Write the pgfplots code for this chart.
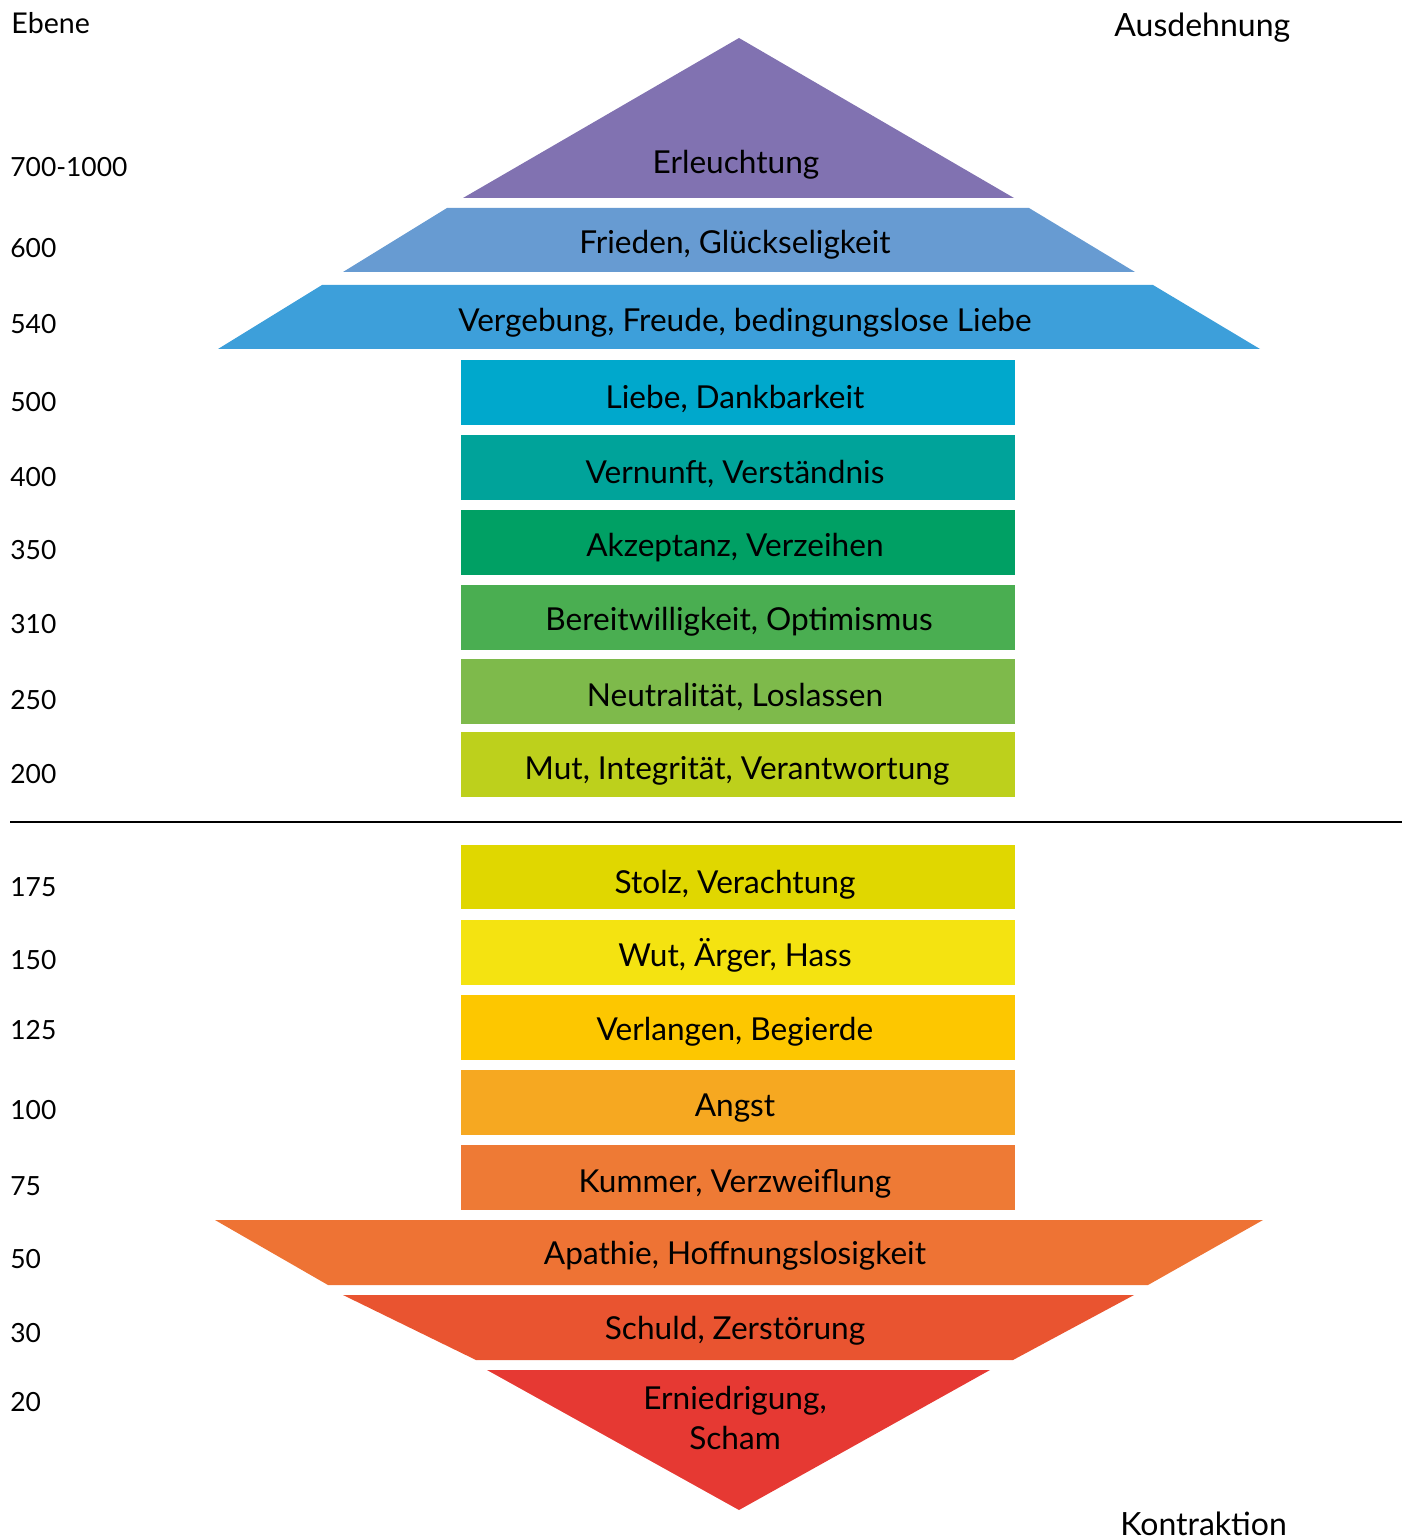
\documentclass[border=0pt]{standalone}
\usepackage{pgfplots}
\pgfplotsset{compat=1.18}
\usepackage{fontspec}
\setmainfont{Lato}
\definecolor{cErl}{HTML}{8172B1}
\definecolor{cFri}{HTML}{679BD2}
\definecolor{cVer}{HTML}{3D9FDA}
\definecolor{cLie}{HTML}{00A8CC}
\definecolor{cVnu}{HTML}{00A39A}
\definecolor{cAkz}{HTML}{00A064}
\definecolor{cBer}{HTML}{4AAE51}
\definecolor{cNeu}{HTML}{7EBA4B}
\definecolor{cMut}{HTML}{BDD01C}
\definecolor{cSto}{HTML}{E0D700}
\definecolor{cWut}{HTML}{F4E311}
\definecolor{cVla}{HTML}{FDC700}
\definecolor{cAng}{HTML}{F6A821}
\definecolor{cKum}{HTML}{EE7A35}
\definecolor{cApa}{HTML}{EE7334}
\definecolor{cSch}{HTML}{E95430}
\definecolor{cErn}{HTML}{E63933}
\begin{document}
\begin{tikzpicture}
\begin{axis}[
  scale only axis, width=706.5pt, height=770pt,
  xmin=0, xmax=1413, ymin=0, ymax=1540, y dir=reverse,
  hide axis, clip=false,
  every axis plot/.append style={draw=none},
]
% upper shapes
\addplot[fill=cErl] coordinates {(739,38) (1014,198) (463,198)} -- cycle;
\addplot[fill=cFri] coordinates {(447,208) (1029,208) (1135,272) (343,272)} -- cycle;
\addplot[fill=cVer] coordinates {(322,285) (1153,285) (1260,349) (218,349)} -- cycle;
% rectangles
\addplot[fill=cLie] coordinates {(461,360) (1015,360) (1015,425) (461,425)} -- cycle;
\addplot[fill=cVnu] coordinates {(461,435) (1015,435) (1015,500) (461,500)} -- cycle;
\addplot[fill=cAkz] coordinates {(461,510) (1015,510) (1015,575) (461,575)} -- cycle;
\addplot[fill=cBer] coordinates {(461,585) (1015,585) (1015,650) (461,650)} -- cycle;
\addplot[fill=cNeu] coordinates {(461,659) (1015,659) (1015,724) (461,724)} -- cycle;
\addplot[fill=cMut] coordinates {(461,732) (1015,732) (1015,797) (461,797)} -- cycle;
\addplot[draw=black, line width=1pt] coordinates {(10,822) (1402,822)};
\addplot[fill=cSto] coordinates {(461,845) (1015,845) (1015,909) (461,909)} -- cycle;
\addplot[fill=cWut] coordinates {(461,920) (1015,920) (1015,985) (461,985)} -- cycle;
\addplot[fill=cVla] coordinates {(461,995) (1015,995) (1015,1060) (461,1060)} -- cycle;
\addplot[fill=cAng] coordinates {(461,1070) (1015,1070) (1015,1135) (461,1135)} -- cycle;
\addplot[fill=cKum] coordinates {(461,1145) (1015,1145) (1015,1210) (461,1210)} -- cycle;
% lower shapes
\addplot[fill=cApa] coordinates {(215,1220) (1263,1220) (1148,1285) (328,1285)} -- cycle;
\addplot[fill=cSch] coordinates {(343,1295) (1134,1295) (1013,1360) (476,1360)} -- cycle;
\addplot[fill=cErn] coordinates {(487,1370) (990,1370) (739,1510)} -- cycle;
% centre labels
\begin{scope}[every node/.style={anchor=base, font=\fontsize{15.8pt}{18pt}\selectfont, inner sep=0pt}]
\node at (axis cs:736,174) {Erleuchtung};
\node at (axis cs:735,254) {Frieden, Glückseligkeit};
\node at (axis cs:745,331) {Vergebung, Freude, bedingungslose Liebe};
\node at (axis cs:735,408) {Liebe, Dankbarkeit};
\node at (axis cs:735,483) {Vernunft, Verständnis};
\node at (axis cs:735,556) {Akzeptanz, Verzeihen};
\node at (axis cs:739,630) {Bereitwilligkeit, Optimismus};
\node at (axis cs:735,706) {Neutralität, Loslassen};
\node at (axis cs:737,779) {Mut, Integrität, Verantwortung};
\node at (axis cs:735,893) {Stolz, Verachtung};
\node at (axis cs:735,966) {Wut, Ärger, Hass};
\node at (axis cs:735,1040) {Verlangen, Begierde};
\node at (axis cs:735,1116) {Angst};
\node at (axis cs:735,1192) {Kummer, Verzweiflung};
\node at (axis cs:735,1264) {Apathie, Hoffnungslosigkeit};
\node at (axis cs:735,1339) {Schuld, Zerstörung};
\node at (axis cs:735,1409) {Erniedrigung,};
\node at (axis cs:735,1449) {Scham};
\end{scope}
% side labels
\node[anchor=base west, font=\fontsize{14.3pt}{17pt}\selectfont, inner sep=0pt] at (axis cs:11,34) {Ebene};
\begin{scope}[every node/.style={anchor=base west, font=\fontsize{13.2pt}{16pt}\selectfont, inner sep=0pt}]
\node at (axis cs:10,177) {700-1000};
\node at (axis cs:10,258) {600};
\node at (axis cs:10,334) {540};
\node at (axis cs:10,411) {500};
\node at (axis cs:10,486) {400};
\node at (axis cs:10,559) {350};
\node at (axis cs:10,633) {310};
\node at (axis cs:10,709) {250};
\node at (axis cs:10,783) {200};
\node at (axis cs:10,896) {175};
\node at (axis cs:10,969) {150};
\node at (axis cs:10,1039) {125};
\node at (axis cs:10,1119) {100};
\node at (axis cs:10,1195) {75};
\node at (axis cs:10,1268) {50};
\node at (axis cs:10,1342) {30};
\node at (axis cs:10,1411) {20};
\end{scope}
\begin{scope}[every node/.style={anchor=base west, font=\fontsize{16pt}{18pt}\selectfont, inner sep=0pt}]
\node at (axis cs:1114,37) {Ausdehnung};
\node at (axis cs:1120,1535) {Kontraktion};
\end{scope}
\end{axis}
\pgfresetboundingbox
\path (current axis.south west) rectangle (current axis.north east);
\end{tikzpicture}
\end{document}
